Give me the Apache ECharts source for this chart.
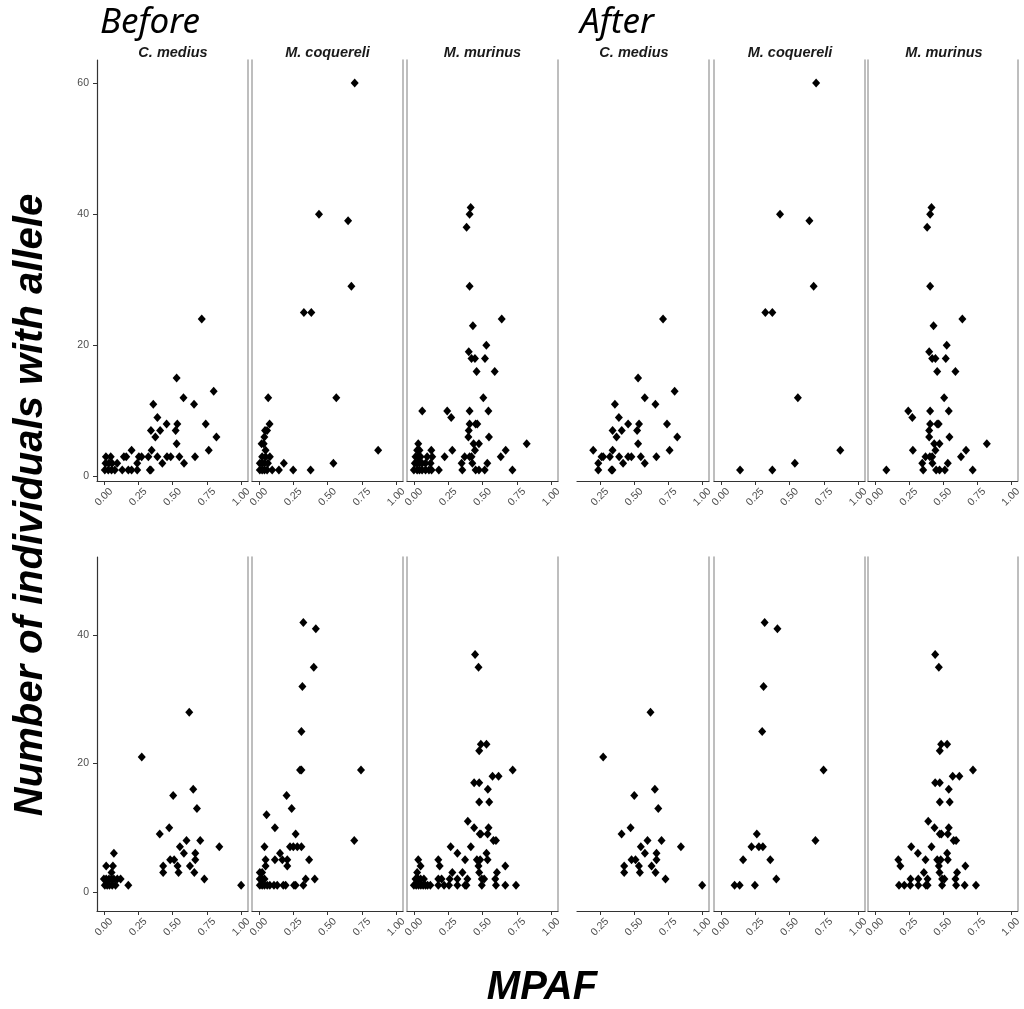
<!DOCTYPE html>
<html><head><meta charset="utf-8">
<script src="https://cdn.jsdelivr.net/npm/echarts@6/dist/echarts.min.js"></script>
<style>html,body{margin:0;padding:0;background:#fff}#c{width:1024px;height:1009px}</style>
</head><body><div id="c"></div>
<script>
// ---------- categories & ticks ----------
const species = ['C. medius', 'M. coquereli', 'M. murinus'];
const phases = ['Before', 'After'];
const xTickValues = [0, 0.25, 0.5, 0.75, 1];
const yTickValuesTop = [0, 20, 40, 60];
const yTickValuesBottom = [0, 20, 40];
const xTitle = 'MPAF';
const yTitle = 'Number of individuals with allele';

// ---------- data: [MPAF, number of individuals with allele] ----------
// top row
const topBeforeCMedius = [[0.713,24],[0.53,15],[0.80,13],[0.58,12],[0.36,11],[0.657,11],[0.39,9],[0.457,8],[0.535,8],[0.742,8],[0.343,7],[0.41,7],[0.523,7],[0.375,6],[0.82,6],[0.53,5],[0.202,4],[0.348,4],[0.764,4],[0.015,3],[0.05,3],[0.146,3],[0.163,3],[0.255,3],[0.275,3],[0.324,3],[0.39,3],[0.46,3],[0.487,3],[0.55,3],[0.664,3],[0.012,2],[0.036,2],[0.06,2],[0.097,2],[0.243,2],[0.426,2],[0.584,2],[0.007,1],[0.032,1],[0.056,1],[0.08,1],[0.134,1],[0.178,1],[0.202,1],[0.243,1],[0.335,1],[0.342,1]];
const topBeforeMCoquereli = [[0.698,60],[0.438,40],[0.65,39],[0.674,29],[0.328,25],[0.382,25],[0.068,12],[0.564,12],[0.078,8],[0.045,7],[0.06,7],[0.04,6],[0.02,5],[0.035,5],[0.049,4],[0.869,4],[0.024,3],[0.049,3],[0.08,3],[0.007,2],[0.024,2],[0.041,2],[0.066,2],[0.182,2],[0.543,2],[0.007,1],[0.024,1],[0.041,1],[0.06,1],[0.097,1],[0.146,1],[0.25,1],[0.377,1]];
const topBeforeMMurinus = [[0.414,41],[0.406,40],[0.384,38],[0.406,29],[0.64,24],[0.43,23],[0.528,20],[0.40,19],[0.42,18],[0.445,18],[0.518,18],[0.457,16],[0.589,16],[0.506,12],[0.061,10],[0.243,10],[0.406,10],[0.543,10],[0.272,9],[0.406,8],[0.45,8],[0.462,8],[0.40,7],[0.397,6],[0.547,6],[0.822,5],[0.435,5],[0.474,5],[0.032,5],[0.024,4],[0.041,4],[0.127,4],[0.28,4],[0.445,4],[0.669,4],[0.012,3],[0.032,3],[0.049,3],[0.097,3],[0.134,3],[0.224,3],[0.37,3],[0.406,3],[0.42,3],[0.633,3],[0.007,2],[0.024,2],[0.041,2],[0.06,2],[0.085,2],[0.122,2],[0.348,2],[0.426,2],[0.535,2],[0.0,1],[0.024,1],[0.041,1],[0.06,1],[0.085,1],[0.11,1],[0.129,1],[0.182,1],[0.353,1],[0.45,1],[0.474,1],[0.516,1],[0.718,1]];
const topAfterCMedius = [[0.713,24],[0.53,15],[0.798,13],[0.579,12],[0.36,11],[0.657,11],[0.389,9],[0.457,8],[0.537,8],[0.742,8],[0.343,7],[0.41,7],[0.523,7],[0.372,6],[0.817,6],[0.53,5],[0.201,4],[0.343,4],[0.761,4],[0.262,3],[0.274,3],[0.323,3],[0.391,3],[0.457,3],[0.481,3],[0.55,3],[0.664,3],[0.238,2],[0.42,2],[0.579,2],[0.238,1],[0.335,1],[0.342,1]];
const topAfterMCoquereli = [[0.694,60],[0.431,40],[0.645,39],[0.676,29],[0.324,25],[0.375,25],[0.561,12],[0.87,4],[0.539,2],[0.14,1],[0.375,1]];
const topAfterMMurinus = [[0.417,41],[0.407,40],[0.385,38],[0.407,29],[0.644,24],[0.432,23],[0.529,20],[0.40,19],[0.422,18],[0.446,18],[0.522,18],[0.459,16],[0.593,16],[0.51,12],[0.246,10],[0.407,10],[0.544,10],[0.276,9],[0.407,8],[0.459,8],[0.47,8],[0.40,7],[0.40,6],[0.549,6],[0.824,5],[0.437,5],[0.476,5],[0.28,4],[0.446,4],[0.671,4],[0.373,3],[0.405,3],[0.422,3],[0.634,3],[0.349,2],[0.424,2],[0.537,2],[0.085,1],[0.356,1],[0.451,1],[0.476,1],[0.515,1],[0.72,1]];
// bottom row
const bottomBeforeCMedius = [[0.622,28],[0.276,21],[0.651,16],[0.505,15],[0.678,13],[0.476,10],[0.407,9],[0.602,8],[0.702,8],[0.554,7],[0.841,7],[0.073,6],[0.583,6],[0.666,6],[0.483,5],[0.512,5],[0.666,5],[0.017,4],[0.066,4],[0.432,4],[0.537,4],[0.627,4],[0.056,3],[0.432,3],[0.544,3],[0.659,3],[0.0,2],[0.017,2],[0.037,2],[0.056,2],[0.073,2],[0.098,2],[0.122,2],[0.732,2],[0.007,1],[0.024,1],[0.041,1],[0.061,1],[0.085,1],[0.178,1],[1.0,1]];
const bottomBeforeMCoquereli = [[0.324,42],[0.415,41],[0.40,35],[0.317,32],[0.31,25],[0.30,19],[0.31,19],[0.744,19],[0.202,15],[0.239,13],[0.056,12],[0.117,10],[0.268,9],[0.695,8],[0.041,7],[0.227,7],[0.251,7],[0.28,7],[0.31,7],[0.154,6],[0.049,5],[0.117,5],[0.171,5],[0.207,5],[0.366,5],[0.049,4],[0.207,4],[0.007,3],[0.024,3],[0.007,2],[0.024,2],[0.041,2],[0.341,2],[0.407,2],[0.007,1],[0.024,1],[0.041,1],[0.061,1],[0.08,1],[0.11,1],[0.134,1],[0.178,1],[0.195,1],[0.256,1],[0.268,1],[0.324,1]];
const bottomBeforeMMurinus = [[0.446,37],[0.471,35],[0.488,23],[0.529,23],[0.476,22],[0.72,19],[0.573,18],[0.617,18],[0.439,17],[0.476,17],[0.539,16],[0.476,14],[0.549,14],[0.393,11],[0.439,10],[0.544,10],[0.48,9],[0.488,9],[0.537,9],[0.58,8],[0.598,8],[0.268,7],[0.415,7],[0.317,6],[0.529,6],[0.032,5],[0.178,5],[0.373,5],[0.459,5],[0.483,5],[0.537,5],[0.049,4],[0.188,4],[0.471,4],[0.666,4],[0.024,3],[0.28,3],[0.354,3],[0.476,3],[0.605,3],[0.012,2],[0.032,2],[0.049,2],[0.073,2],[0.178,2],[0.202,2],[0.261,2],[0.317,2],[0.39,2],[0.495,2],[0.512,2],[0.593,2],[0.0,1],[0.017,1],[0.034,1],[0.051,1],[0.068,1],[0.085,1],[0.1,1],[0.12,1],[0.178,1],[0.22,1],[0.256,1],[0.317,1],[0.373,1],[0.383,1],[0.495,1],[0.598,1],[0.666,1],[0.744,1]];
const bottomAfterCMedius = [[0.621,28],[0.274,21],[0.653,16],[0.502,15],[0.678,13],[0.475,10],[0.409,9],[0.599,8],[0.702,8],[0.55,7],[0.844,7],[0.58,6],[0.665,6],[0.482,5],[0.511,5],[0.665,5],[0.428,4],[0.536,4],[0.629,4],[0.428,3],[0.543,3],[0.658,3],[0.731,2],[1.0,1]];
const bottomAfterMCoquereli = [[0.319,42],[0.412,41],[0.311,32],[0.301,25],[0.748,19],[0.262,9],[0.689,8],[0.223,7],[0.277,7],[0.306,7],[0.162,5],[0.36,5],[0.404,2],[0.1,1],[0.137,1],[0.248,1]];
const bottomAfterMMurinus = [[0.444,37],[0.471,35],[0.488,23],[0.532,23],[0.478,22],[0.722,19],[0.573,18],[0.622,18],[0.444,17],[0.478,17],[0.544,16],[0.478,14],[0.551,14],[0.393,11],[0.439,10],[0.544,10],[0.478,9],[0.49,9],[0.537,9],[0.58,8],[0.598,8],[0.268,7],[0.417,7],[0.317,6],[0.532,6],[0.173,5],[0.373,5],[0.459,5],[0.485,5],[0.537,5],[0.188,4],[0.471,4],[0.666,4],[0.361,3],[0.476,3],[0.605,3],[0.263,2],[0.32,2],[0.388,2],[0.495,2],[0.512,2],[0.593,2],[0.178,1],[0.217,1],[0.261,1],[0.32,1],[0.376,1],[0.388,1],[0.495,1],[0.598,1],[0.661,1],[0.744,1]];

// ---------- layout (pixels) ----------
const colLeft  = [97, 252, 407, 577, 714, 868];
const colWidth = [151, 151, 151, 132, 151, 151];
const colXMin  = [-0.05, -0.05, -0.05, 0.082, -0.05, -0.05];
const xMax = 1.05;
const rowTop = [60, 557];
const rowHeight = [421, 354];
const rowYRange = [[-0.69, 63.5], [-3.0, 52.2]];
const stripCenters = [173, 327.5, 482.5, 634, 790, 944];

const panelData = [
  [topBeforeCMedius, topBeforeMCoquereli, topBeforeMMurinus, topAfterCMedius, topAfterMCoquereli, topAfterMMurinus],
  [bottomBeforeCMedius, bottomBeforeMCoquereli, bottomBeforeMMurinus, bottomAfterCMedius, bottomAfterMCoquereli, bottomAfterMMurinus]
];

const AX = '#333333', BORDER = '#a8a8a8', LBL = '#4d4d4d';
const grid = [], xAxis = [], yAxis = [], series = [];
let gi = 0;
for (let r = 0; r < 2; r++) {
  const yTicks = r === 0 ? yTickValuesTop : yTickValuesBottom;
  for (let c = 0; c < 6; c++) {
    grid.push({left: colLeft[c], top: rowTop[r], width: colWidth[c], height: rowHeight[r], containLabel: false});
    const xt = xTickValues.filter(v => v >= colXMin[c]);
    xAxis.push({
      gridIndex: gi, type: 'value', min: colXMin[c], max: xMax,
      axisLine: {show: true, onZero: false, lineStyle: {color: AX, width: 1.2}},
      axisTick: {show: true, customValues: xt, length: 4, lineStyle: {color: AX, width: 1}},
      axisLabel: {show: true, customValues: xt, rotate: 45, align: 'center', verticalAlign: 'middle', margin: 16,
        fontSize: 10.5, color: LBL, fontFamily: 'Liberation Sans', formatter: v => v.toFixed(2)},
      splitLine: {show: false}
    });
    const first = c === 0;
    yAxis.push({
      gridIndex: gi, type: 'value', position: 'left', min: rowYRange[r][0], max: rowYRange[r][1],
      axisLine: {show: c !== 3, onZero: false, lineStyle: {color: first ? AX : BORDER, width: first ? 1.2 : 1.5}},
      axisTick: {show: first, customValues: yTicks, length: 4, lineStyle: {color: AX}},
      axisLabel: {show: first, customValues: yTicks, fontSize: 10.5, color: LBL, fontFamily: 'Liberation Sans', margin: 8},
      splitLine: {show: false}
    });
    yAxis.push({
      gridIndex: gi, type: 'value', position: 'right', min: rowYRange[r][0], max: rowYRange[r][1],
      axisLine: {show: true, onZero: false, lineStyle: {color: BORDER, width: 1.5}},
      axisTick: {show: false}, axisLabel: {show: false}, splitLine: {show: false}
    });
    series.push({
      type: 'scatter', xAxisIndex: gi, yAxisIndex: 2 * gi, data: panelData[r][c],
      symbol: 'diamond', symbolSize: [8, 9], itemStyle: {color: '#000', opacity: 1}, silent: true
    });
    gi++;
  }
}

const graphic = [];
// phase titles
graphic.push({type: 'text', left: 100, top: 6, style: {text: phases[0], fontSize: 35, fontStyle: 'italic', fontFamily: 'Noto Sans', fill: '#000'}});
graphic.push({type: 'text', left: 580, top: 6, style: {text: phases[1], fontSize: 35, fontStyle: 'italic', fontFamily: 'Noto Sans', fill: '#000'}});
// strip labels
for (let c = 0; c < 6; c++) {
  graphic.push({type: 'text', x: stripCenters[c], y: 53, style: {text: species[c % 3], fontSize: 14.5, fontStyle: 'italic', fontWeight: 'bold',
    fontFamily: 'Liberation Sans', fill: '#1a1a1a', textAlign: 'center', textVerticalAlign: 'middle'}});
}
// axis titles
graphic.push({type: 'text', x: 31, y: 505, rotation: Math.PI / 2, style: {text: yTitle, fontSize: 40, fontStyle: 'italic', fontWeight: 'bold',
  fontFamily: 'Liberation Sans', fill: '#000', textAlign: 'center', textVerticalAlign: 'middle'}});
graphic.push({type: 'text', x: 542, y: 988, style: {text: xTitle, fontSize: 40, fontStyle: 'italic', fontWeight: 'bold',
  fontFamily: 'Liberation Sans', fill: '#000', textAlign: 'center', textVerticalAlign: 'middle'}});

const chart = echarts.init(document.getElementById('c'), null, {renderer: 'canvas'});
chart.setOption({animation: false, backgroundColor: '#fff', grid, xAxis, yAxis, series, graphic});
</script>
</body></html>
